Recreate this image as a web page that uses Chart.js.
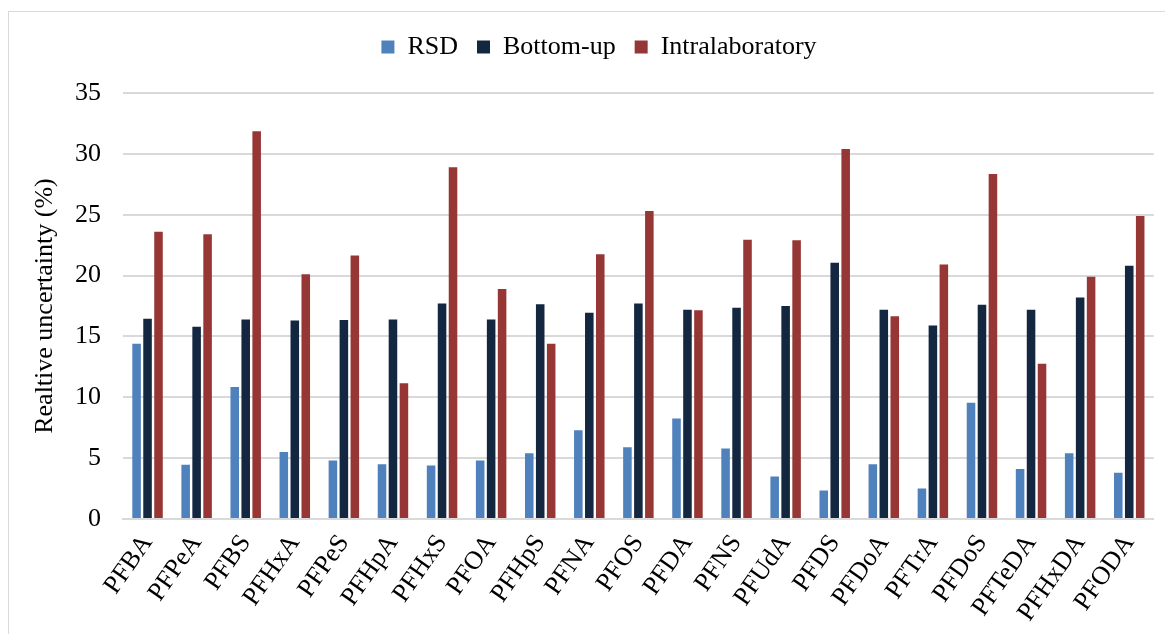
<!DOCTYPE html>
<html>
<head>
<meta charset="utf-8">
<script src="https://cdn.jsdelivr.net/npm/chart.js@4"></script>
<style>
  html, body { margin:0; padding:0; background:#fff; }
  #wrap { position:absolute; left:0; top:0; width:1165px; height:634px; }
  #frame { position:absolute; left:8px; top:11px; width:1200px; height:700px; border:1.5px solid #d9d9d9; box-sizing:border-box; }
  canvas { position:absolute; left:0; top:0; }
</style>
</head>
<body>
<div id="wrap">
  <div id="frame"></div>
  <canvas id="c" width="1165" height="634"></canvas>
</div>
<script>
const categories = ["PFBA","PFPeA","PFBS","PFHxA","PFPeS","PFHpA","PFHxS","PFOA","PFHpS","PFNA","PFOS","PFDA","PFNS","PFUdA","PFDS","PFDoA","PFTrA","PFDoS","PFTeDA","PFHxDA","PFODA"];
const rsd = [14.4, 4.45, 10.85, 5.5, 4.8, 4.5, 4.4, 4.8, 5.4, 7.3, 5.9, 8.25, 5.8, 3.5, 2.35, 4.5, 2.5, 9.55, 4.1, 5.4, 3.8];
const bottomUp = [16.45, 15.8, 16.4, 16.3, 16.35, 16.4, 17.7, 16.4, 17.65, 16.95, 17.7, 17.2, 17.35, 17.5, 21.05, 17.2, 15.9, 17.6, 17.2, 18.2, 20.8];
const intralab = [23.6, 23.4, 31.85, 20.1, 21.65, 11.15, 28.9, 18.9, 14.4, 21.75, 25.3, 17.15, 22.95, 22.9, 30.4, 16.65, 20.9, 28.35, 12.75, 19.9, 24.9];
const seriesNames = ["RSD", "Bottom-up", "Intralaboratory"];
const yTicks = [0, 5, 10, 15, 20, 25, 30, 35];
const yTitle = "Realtive uncertainty (%)";

const serif = "'Liberation Serif', 'Times New Roman', serif";
Chart.defaults.font.family = serif;
Chart.defaults.color = "#000";

const legendFix = {
  id: 'legendFix',
  beforeInit(chart) {
    const orig = chart.legend.fit;
    chart.legend.fit = function() { orig.bind(chart.legend)(); this.height = 78; };
  },
  afterLayout(chart) {
    chart.legend.left += 21;
    chart.legend.right += 21;
  }
};

new Chart(document.getElementById('c'), {
  type: 'bar',
  data: {
    labels: categories,
    datasets: [
      { label: seriesNames[0], data: rsd, backgroundColor: '#4F81BD' },
      { label: seriesNames[1], data: bottomUp, backgroundColor: '#132741' },
      { label: seriesNames[2], data: intralab, backgroundColor: '#963735' }
    ]
  },
  options: {
    responsive: false,
    animation: false,
    devicePixelRatio: 1,
    layout: { padding: { left: 0, right: 9, top: 15, bottom: 0 } },
    datasets: { bar: { categoryPercentage: 0.67, barPercentage: 0.78 } },
    plugins: {
      legend: {
        position: 'top',
        align: 'center',
        labels: {
          font: { size: 26, family: serif },
          boxWidth: 13, boxHeight: 13,
          padding: 19,
          color: '#000'
        }
      },
      tooltip: { enabled: false }
    },
    scales: {
      x: {
        grid: { display: false, drawTicks: false },
        border: { display: true, color: '#d9d9d9', width: 2 },
        ticks: { autoSkip: false, minRotation: 55, maxRotation: 55, padding: 10, font: { size: 26, family: serif }, color: '#000' },
        afterFit: s => { s.height = 115; }
      },
      y: {
        min: 0, max: 35,
        afterBuildTicks: s => { s.ticks = yTicks.map(v => ({ value: v })); },
        grid: { color: '#d9d9d9', lineWidth: 2, drawTicks: false },
        border: { display: false },
        ticks: { padding: 22, font: { size: 26, family: serif }, color: '#000' },
        title: { display: true, text: yTitle, font: { size: 26, family: serif }, color: '#000', padding: { top: 30, bottom: 0 } },
        afterFit: s => { s.width = 123; }
      }
    }
  },
  plugins: [legendFix]
});
</script>
</body>
</html>
